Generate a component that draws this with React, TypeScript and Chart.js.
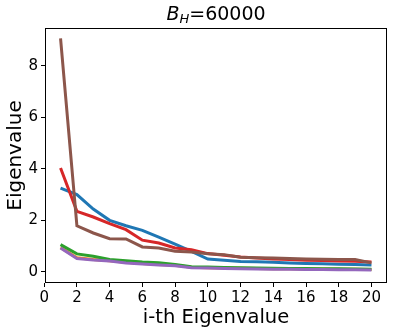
import React, { useEffect, useRef } from "react";
import { Chart, registerables } from "chart.js";

Chart.register(...registerables);

const indices = [1, 2, 3, 4, 5, 6, 7, 8, 9, 10, 11, 12, 13, 14, 15, 16, 17, 18, 19, 20];
const blueVals = [3.25, 3.0, 2.44, 2.0, 1.79, 1.61, 1.35, 1.08, 0.8, 0.5, 0.45, 0.4, 0.39, 0.37, 0.35, 0.33, 0.32, 0.3, 0.29, 0.27];
const orangeVals = [0.95, 0.55, 0.48, 0.43, 0.37, 0.33, 0.29, 0.26, 0.18, 0.16, 0.15, 0.14, 0.13, 0.12, 0.12, 0.11, 0.11, 0.1, 0.1, 0.09];
const greenVals = [1.06, 0.7, 0.61, 0.48, 0.43, 0.38, 0.36, 0.29, 0.2, 0.19, 0.17, 0.16, 0.15, 0.14, 0.13, 0.13, 0.12, 0.12, 0.11, 0.1];
const redVals = [4.03, 2.35, 2.13, 1.87, 1.64, 1.23, 1.12, 0.93, 0.86, 0.71, 0.65, 0.58, 0.54, 0.5, 0.48, 0.45, 0.44, 0.42, 0.41, 0.38];
const purpleVals = [0.93, 0.52, 0.46, 0.42, 0.35, 0.31, 0.27, 0.24, 0.16, 0.15, 0.13, 0.12, 0.11, 0.1, 0.1, 0.09, 0.09, 0.08, 0.08, 0.07];
const brownVals = [9.06, 1.79, 1.51, 1.29, 1.28, 0.97, 0.93, 0.8, 0.77, 0.7, 0.67, 0.57, 0.55, 0.54, 0.52, 0.5, 0.49, 0.48, 0.48, 0.35];

const xTicks = [0, 2, 4, 6, 8, 10, 12, 14, 16, 18, 20];
const yTicks = [0, 2, 4, 6, 8];

const seriesList = [
  { name: "s1", values: blueVals, color: "#1f77b4" },
  { name: "s2", values: orangeVals, color: "#ff7f0e" },
  { name: "s3", values: greenVals, color: "#2ca02c" },
  { name: "s4", values: redVals, color: "#d62728" },
  { name: "s5", values: purpleVals, color: "#9467bd" },
  { name: "s6", values: brownVals, color: "#8c564b" },
];

const FONT = "'DejaVu Sans', sans-serif";

const framePlugin = {
  id: "frame",
  afterDraw(chart: any) {
    const { ctx, chartArea } = chart;
    ctx.save();
    ctx.strokeStyle = "#000";
    ctx.lineWidth = 1;
    ctx.strokeRect(
      Math.round(chartArea.left) + 0.5,
      Math.round(chartArea.top) + 0.5,
      Math.round(chartArea.right - chartArea.left) - 1,
      Math.round(chartArea.bottom - chartArea.top) - 1
    );
    // title: B_H=60000
    const cx = (chartArea.left + chartArea.right) / 2;
    const baseY = 20;
    ctx.fillStyle = "#000";
    ctx.textBaseline = "alphabetic";
    ctx.textAlign = "left";
    const f1 = `italic 19px ${FONT}`;
    const f2 = `italic 13px ${FONT}`;
    const f3 = `19px ${FONT}`;
    ctx.font = f1;
    const wB = ctx.measureText("B").width;
    ctx.font = f2;
    const wH = ctx.measureText("H").width;
    ctx.font = f3;
    const wR = ctx.measureText("=60000").width;
    let x = cx - (wB + wH + wR) / 2;
    ctx.font = f1;
    ctx.fillText("B", x, baseY);
    x += wB;
    ctx.font = f2;
    ctx.fillText("H", x, baseY + 3);
    x += wH;
    ctx.font = f3;
    ctx.fillText("=60000", x, baseY);
    ctx.restore();
  },
};

export default function App() {
  const ref = useRef<HTMLCanvasElement | null>(null);
  useEffect(() => {
    if (!ref.current) return;
    const chart = new Chart(ref.current, {
      type: "line",
      data: {
        datasets: seriesList.map((s, idx) => ({
          label: s.name,
          data: indices.map((i, k) => ({ x: i, y: s.values[k] })),
          borderColor: s.color,
          backgroundColor: s.color,
          borderWidth: 3,
          pointRadius: 0,
          tension: 0,
          fill: false,
          order: seriesList.length - idx,
        })),
      },
      options: {
        responsive: false,
        animation: false,
        layout: { padding: { top: 28, right: 11, left: 0, bottom: 0 } },
        plugins: { legend: { display: false }, tooltip: { enabled: false }, title: { display: false } },
        scales: {
          x: {
            type: "linear",
            min: 0.05,
            max: 20.95,
            afterBuildTicks: (scale: any) => {
              scale.ticks = xTicks.map((v) => ({ value: v }));
            },
            afterFit: (scale: any) => {
              scale.height = 50;
            },
            grid: { display: true, drawOnChartArea: false, drawTicks: true, tickLength: 4, color: "#000" },
            border: { display: false },
            ticks: { color: "#000", font: { family: FONT, size: 15 }, padding: 2, maxRotation: 0, autoSkip: false },
            title: { display: true, text: "i-th Eigenvalue", color: "#000", font: { family: FONT, size: 19.5 }, padding: { top: 0, bottom: 3 } },
          },
          y: {
            type: "linear",
            min: -0.43,
            max: 9.46,
            afterBuildTicks: (scale: any) => {
              scale.ticks = yTicks.map((v) => ({ value: v }));
            },
            afterFit: (scale: any) => {
              scale.width = 45;
            },
            grid: { display: true, drawOnChartArea: false, drawTicks: true, tickLength: 4, color: "#000" },
            border: { display: false },
            ticks: { color: "#000", font: { family: FONT, size: 15 }, padding: 3 },
            title: { display: true, text: "Eigenvalue", color: "#000", font: { family: FONT, size: 20 }, padding: { top: 4, bottom: 0 } },
          },
        },
      },
      plugins: [framePlugin],
    });
    return () => chart.destroy();
  }, []);
  return (
    <div style={{ position: "absolute", left: 0, top: 0, width: 398, height: 333, background: "#fff" }}>
      <canvas ref={ref} width={398} height={333} style={{ display: "block" }} />
    </div>
  );
}
